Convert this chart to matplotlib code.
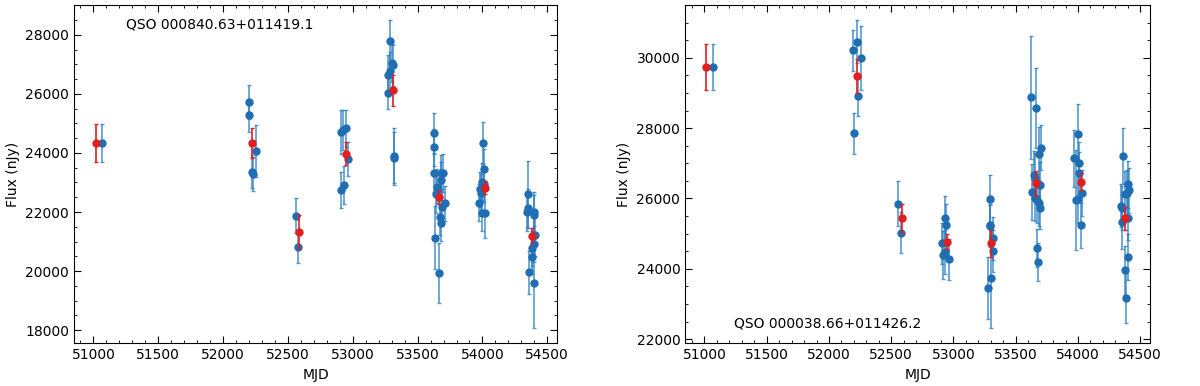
import numpy as np
import matplotlib
matplotlib.use('Agg')
import matplotlib.pyplot as plt
from matplotlib.ticker import AutoMinorLocator

# QSO 000840.63+011419.1 (left panel)
mjd_a = [51070,
         52198, 52198, 52252, 52225, 52232,
         52560, 52580,
         52912, 52927, 52945, 52965, 52910, 52932,
         53290, 53307, 53299, 53275, 53285, 53275, 53317, 53317,
         53624, 53629, 53629, 53646, 53641, 53683, 53698, 53678, 53710, 53686, 53673, 53683, 53636, 53666,
         54005, 54010, 54000, 53980, 53990, 54010, 53970, 53995, 54020,
         54351, 54341, 54354, 54401, 54401, 54406, 54401, 54384, 54386, 54361, 54398]
flux_a = [24339,
          25729, 25277, 24068, 23367, 23288,
          21875, 20802,
          24723, 24779, 24836, 23785, 22734, 22926,
          27774, 26960, 27040, 26644, 26757, 26034, 23909, 23819,
          24667, 24192, 23311, 22858, 22599, 23085, 23311, 23311, 22294, 22158, 21819, 21638, 21130, 19921,
          24339, 23469, 23028, 22768, 22655, 22938, 22316, 21977, 21977,
          22599, 22011, 22124, 22000, 21887, 21220, 20915, 20768, 20486, 19954, 19581]
err_a = [633,
         565, 560, 880, 560, 580,
         600, 540,
         745, 680, 630, 576, 610, 645,
         712, 700, 650, 680, 650, 550, 927, 900,
         680, 620, 650, 600, 620, 620, 650, 620, 600, 620, 600, 620, 1070, 1017,
         700, 650, 620, 600, 620, 600, 620, 620, 850,
         1130, 650, 650, 680, 680, 700, 620, 600, 600, 735, 1500]
mjd_a_red = [51020, 52225, 52585, 52947, 53307, 53666, 54022, 54381]
flux_a_red = [24339, 24339, 21333, 23977, 26113, 22497, 22825, 21197]
err_a_red = [633, 497, 560, 395, 525, 226, 226, 260]

# QSO 000038.66+011426.2 (right panel)
mjd_b = [51068,
         52195, 52223, 52255, 52230, 52198,
         52558, 52580,
         52930, 52938, 52908, 52915, 52932, 52965,
         53297, 53290, 53295, 53314, 53314, 53302, 53275,
         53626, 53663, 53683, 53703, 53646, 53651, 53629, 53696, 53653, 53670, 53683, 53696, 53671, 53676,
         53997, 53970, 54010, 54030, 53985, 53999, 54025, 54005,
         54359, 54342, 54350, 54354, 54379, 54391, 54403, 54410, 54398, 54398, 54381, 54384]
flux_b = [29735,
          30209, 30455, 29981, 28900, 27848,
          25848, 25023,
          25440, 25241, 24720, 24388, 24483, 24265,
          25990, 25241, 25213, 24862, 24502, 23743, 23459,
          28872, 28578, 27270, 27440, 26663, 26587, 26180, 26379, 26000, 25952, 25877, 25735, 24596, 24189,
          27820, 27137, 27014, 26160, 25952, 25990, 25232, 26730,
          27194, 25799, 25733, 25327, 26132, 26160, 26397, 26227, 25450, 24331, 23961, 23175]
err_b = [660,
         580, 607, 910, 569, 588,
         635, 588,
         616, 600, 590, 673, 620, 588,
         667, 600, 600, 600, 600, 1420, 890,
         1760, 1137, 760, 635, 700, 700, 800, 650, 650, 650, 650, 600, 540, 540,
         853, 800, 600, 660, 1420, 700, 640, 600,
         796, 620, 620, 760, 650, 650, 680, 650, 620, 660, 700, 730]
mjd_b_red = [51015, 52225, 52585, 52948, 53304, 53666, 54022, 54381]
flux_b_red = [29735, 29469, 25431, 24767, 24720, 26426, 26464, 25431]
err_b_red = [660, 483, 417, 210, 380, 350, 256, 330]

blue = '#1f6db2'
blue_err = (0.18, 0.5, 0.76, 0.8)
red = '#e01f1f'

fig = plt.figure(figsize=(12, 3.86), dpi=100)
ax1 = fig.add_axes([0.0617, 0.111, 0.4025, 0.876])
ax2 = fig.add_axes([0.571, 0.111, 0.3875, 0.876])

panels = [(ax1, mjd_a, flux_a, err_a, mjd_a_red, flux_a_red, err_a_red,
           'QSO 000840.63+011419.1', 0.108, 0.941),
          (ax2, mjd_b, flux_b, err_b, mjd_b_red, flux_b_red, err_b_red,
           'QSO 000038.66+011426.2', 0.105, 0.059)]

for ax, x, y, e, xr, yr, er, name, tx, ty in panels:
    ax.errorbar(x, y, yerr=e, fmt='o', color=blue, ecolor=blue_err, ms=5,
                elinewidth=1.2, capsize=1.5, capthick=1)
    ax.errorbar(xr, yr, yerr=er, fmt='o', color=red, ecolor=red, ms=5,
                elinewidth=1.2, capsize=1.5, capthick=1, zorder=3)
    ax.text(tx, ty, name, transform=ax.transAxes, fontsize=10, va='center')
    ax.set_xlabel('MJD', fontsize=10)
    ax.set_ylabel('Flux (nJy)', fontsize=10)
    ax.set_xticks([51000, 51500, 52000, 52500, 53000, 53500, 54000, 54500])
    ax.xaxis.set_minor_locator(AutoMinorLocator(5))
    ax.yaxis.set_minor_locator(AutoMinorLocator(4))
    ax.tick_params(which='both', direction='in', top=True, right=True, labelsize=10)
    ax.tick_params(which='major', length=5)
    ax.tick_params(which='minor', length=2.5)

fig.savefig('out.png', dpi=100)
